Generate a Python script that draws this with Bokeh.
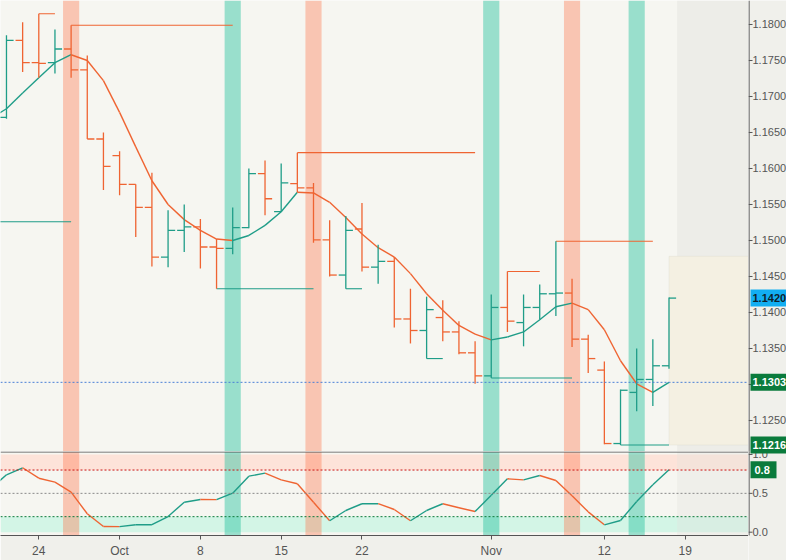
from bokeh.plotting import figure
from bokeh.layouts import column, row
from bokeh.models import (Range1d, FixedTicker, BoxAnnotation, Span, ColumnDataSource)
from bokeh.core.properties import value
from bokeh.embed import file_html
from bokeh.resources import INLINE

# ---------------- data (EURUSD daily, trading-day index, 0 = 24 Sep 2018) ----------------
day_idx = list(range(-3, 40))
opens = [1.1670, 1.1671, 1.1778, 1.1747, 1.1747, 1.1766, 1.1737, 1.1641, 1.1618, 1.1578, 1.1546,
         1.1477, 1.1514, 1.1519, 1.1491, 1.1489, 1.1518, 1.1593, 1.1540, 1.1579, 1.1573,
         1.1501, 1.1452, 1.1516, 1.1463, 1.1471, 1.1391, 1.1375, 1.1393, 1.1373, 1.1344,
         1.1312, 1.1407, 1.1386, 1.1407, 1.1426, 1.1427, 1.1363, 1.1320, 1.1218, 1.1289,
         1.1307, 1.1326]
highs = [1.1700, 1.1785, 1.1803, 1.1815, 1.1793, 1.1799, 1.1757, 1.1650, 1.1624, 1.1578, 1.1594,
         1.1542, 1.1550, 1.1530, 1.1502, 1.1546, 1.1600, 1.1611, 1.1607, 1.1622, 1.1580,
         1.1528, 1.1534, 1.1552, 1.1494, 1.1477, 1.1433, 1.1422, 1.1417, 1.1388, 1.1360,
         1.1425, 1.1457, 1.1425, 1.1439, 1.1499, 1.1447, 1.1369, 1.1332, 1.1293, 1.1350,
         1.1363, 1.1421]
lows = [1.1647, 1.1669, 1.1734, 1.1726, 1.1732, 1.1726, 1.1641, 1.1570, 1.1563, 1.1505, 1.1464,
        1.1463, 1.1484, 1.1461, 1.1433, 1.1481, 1.1517, 1.1535, 1.1540, 1.1567, 1.1497,
        1.1450, 1.1433, 1.1457, 1.1440, 1.1379, 1.1357, 1.1336, 1.1360, 1.1342, 1.1301,
        1.1309, 1.1373, 1.1353, 1.1390, 1.1395, 1.1352, 1.1316, 1.1217, 1.1216, 1.1263,
        1.1270, 1.1322]
closes = [1.1671, 1.1778, 1.1747, 1.1746, 1.1766, 1.1737, 1.1641, 1.1603, 1.1578, 1.1546, 1.1477,
          1.1514, 1.1519, 1.1491, 1.1489, 1.1518, 1.1593, 1.1558, 1.1580, 1.1573, 1.1501,
          1.1452, 1.1514, 1.1463, 1.1471, 1.1391, 1.1375, 1.1404, 1.1373, 1.1344, 1.1312,
          1.1407, 1.1388, 1.1407, 1.1426, 1.1427, 1.1363, 1.1336, 1.1218, 1.1292, 1.1307,
          1.1326, 1.1420]
ma = [1.1669, 1.1683, 1.1705, 1.1726, 1.1747, 1.1758, 1.1750, 1.1722, 1.1678, 1.1630, 1.1583,
      1.1550, 1.1529, 1.1514, 1.1502, 1.1500, 1.1507, 1.1521, 1.1540, 1.1567, 1.1566,
      1.1553, 1.1532, 1.1509, 1.1490, 1.1477, 1.1454, 1.1426, 1.1403, 1.1382, 1.1370,
      1.1362, 1.1366, 1.1373, 1.1390, 1.1408, 1.1413, 1.1404, 1.1376, 1.1333, 1.1301,
      1.1289, 1.1303]
osc = [0.555, 0.739, 0.829, 0.695, 0.644, 0.515, 0.237, 0.073, 0.072, 0.095, 0.096,
       0.202, 0.386, 0.421, 0.419, 0.502, 0.721, 0.760, 0.674, 0.623, 0.385,
       0.147, 0.279, 0.366, 0.367, 0.292, 0.147, 0.279, 0.366, 0.315, 0.266,
       0.476, 0.687, 0.674, 0.730, 0.665, 0.470, 0.262, 0.095, 0.151, 0.395,
       0.610, 0.803]

date_ticks = [0, 5, 10, 15, 20, 28, 35, 40]
date_labels = ["24", "Oct", "8", "15", "22", "Nov", "12", "19"]

sell_signals = [2, 17, 33]
buy_signals = [12, 28, 37]

level_start = [0, 2, -3, 11, 16, 19, 24, 28, 29, 32, 36]
level_end = [1, 12, 2, 17, 27, 20, 25, 33, 31, 38, 39]
level_price = [1.1815, 1.1799, 1.1526, 1.1433, 1.1622, 1.1433, 1.1336, 1.1309, 1.1457, 1.1499, 1.1216]
level_kind = ["res", "res", "sup", "sup", "res", "sup", "sup", "sup", "res", "res", "sup"]

projection_top = 1.1478
projection_bottom = 1.1216
projection_start = 39
future_start = 39.5

price_ticks = [1.125, 1.130, 1.135, 1.140, 1.145, 1.150, 1.155, 1.160, 1.165, 1.170, 1.175, 1.180]
osc_ticks = [0.0, 0.5, 1.0]
osc_upper, osc_mid, osc_lower = 0.8, 0.5, 0.2

# ---------------- styles ----------------
UP = "#1f9d88"
DN = "#ef6432"
BG = "#f6f6f1"
BORDER = "#f0f0eb"
AXIS = "#555555"
FONT = "Liberation Sans"
GREEN_TAG = "#0a7b3c"
BLUE_TAG = "#12aef2"

PRICE_H, OSC_H, DATE_H, MAIN_W, STRIP_W = 451, 84, 25, 748, 38

x_range = Range1d(-2.370, 43.92)
price_range = Range1d(1.120694, 1.183333)
osc_range = Range1d(-0.0425, 1.0386)

common = dict(output_backend="svg", toolbar_location=None,
              min_border_left=0, min_border_top=0, min_border_right=0,
              outline_line_color=None)

# ---------------- price pane ----------------
p = figure(frame_width=MAIN_W, frame_height=PRICE_H, x_range=x_range, y_range=price_range,
           x_axis_location=None, y_axis_location=None, min_border_bottom=0,
           background_fill_color=BG, border_fill_color=BORDER, **common)
p.grid.visible = False

def signal_bands(fig):
    for s in sell_signals:
        fig.add_layout(BoxAnnotation(left=s - 0.5, right=s + 0.5, fill_color="#ff6f42", fill_alpha=0.36,
                                     line_color=None, level="underlay"))
    for b in buy_signals:
        fig.add_layout(BoxAnnotation(left=b - 0.5, right=b + 0.5, fill_color="#23c29e", fill_alpha=0.44,
                                     line_color=None, level="underlay"))

signal_bands(p)
p.add_layout(BoxAnnotation(left=future_start, fill_color="#e2e2dd", fill_alpha=0.4,
                           line_color=None, level="underlay"))
p.add_layout(BoxAnnotation(left=projection_start, bottom=projection_bottom, top=projection_top,
                           fill_color="#f4f0e2", fill_alpha=1.0, line_color="#d6d4ca",
                           line_width=1, level="underlay"))

p.add_layout(Span(location=ma[-1], dimension="width", line_color="#4a7fd6",
                  line_dash="2 2", line_width=1))

lvl_colors = [DN if k == "res" else UP for k in level_kind]
p.segment(x0=level_start, y0=level_price, x1=level_end, y1=level_price,
          line_color=lvl_colors, line_width=1.1)

ma_cols = [UP if ma[i + 1] >= ma[i] else DN for i in range(len(ma) - 1)]
p.segment(x0=day_idx[:-1], y0=ma[:-1], x1=day_idx[1:], y1=ma[1:],
          line_color=ma_cols, line_width=1.4)

bar_cols = [UP if c >= o else DN for o, c in zip(opens, closes)]
src = ColumnDataSource(dict(x=day_idx, xl=[i - 0.44 for i in day_idx], xr=[i + 0.44 for i in day_idx],
                            o=opens, h=highs, l=lows, c=closes, col=bar_cols))
p.segment(x0="x", y0="l", x1="x", y1="h", line_color="col", line_width=1.3, source=src)
p.segment(x0="xl", y0="o", x1="x", y1="o", line_color="col", line_width=1.3, source=src)
p.segment(x0="x", y0="c", x1="xr", y1="c", line_color="col", line_width=1.3, source=src)

# ---------------- oscillator pane ----------------
q = figure(frame_width=MAIN_W, frame_height=OSC_H, x_range=x_range, y_range=osc_range,
           y_axis_location=None, min_border_bottom=DATE_H,
           background_fill_color=BG, border_fill_color=BORDER, **common)
q.grid.visible = False

q.add_layout(BoxAnnotation(bottom=osc_upper, top=1.0, fill_color="#fde3d9", fill_alpha=1.0,
                           line_color=None, level="underlay"))
q.add_layout(BoxAnnotation(bottom=0.0, top=osc_lower, fill_color="#d3f5e6", fill_alpha=1.0,
                           line_color=None, level="underlay"))
signal_bands(q)
q.add_layout(BoxAnnotation(left=future_start, fill_color="#e2e2dd", fill_alpha=0.35,
                           line_color=None, level="underlay"))

q.add_layout(Span(location=1.032, dimension="width", line_color="#505050", line_width=1.2))
q.add_layout(Span(location=osc_upper, dimension="width", line_color="#cc1111", line_dash="2 2", line_width=1))
q.add_layout(Span(location=osc_mid, dimension="width", line_color="#8a8a8a", line_dash="2 2", line_width=1))
q.add_layout(Span(location=osc_lower, dimension="width", line_color="#0b7a3a", line_dash="2 2", line_width=1))

osc_cols = [UP if osc[i + 1] >= osc[i] else DN for i in range(len(osc) - 1)]
q.segment(x0=day_idx[:-1], y0=osc[:-1], x1=day_idx[1:], y1=osc[1:],
          line_color=osc_cols, line_width=1.4)

qx = q.xaxis[0]
qx.ticker = FixedTicker(ticks=date_ticks)
qx.major_label_overrides = {t: lab for t, lab in zip(date_ticks, date_labels)}
qx.axis_line_color = AXIS
qx.axis_line_width = 1.2
qx.major_tick_line_color = AXIS
qx.major_tick_out = 4
qx.major_tick_in = 0
qx.minor_tick_line_color = None
qx.major_label_text_font = FONT
qx.major_label_text_font_size = "12px"
qx.major_label_text_color = AXIS
qx.major_label_standoff = 4

# ---------------- right-hand scale strip (both panes) ----------------
total_h = PRICE_H + OSC_H + DATE_H
pp = (price_range.end - price_range.start) / PRICE_H
strip_price = Range1d(price_range.end - total_h * pp, price_range.end)
op = (osc_range.end - osc_range.start) / OSC_H
strip_osc = Range1d(osc_range.start - DATE_H * op, osc_range.end + PRICE_H * op)

s = figure(frame_width=STRIP_W, frame_height=total_h, x_range=Range1d(0, STRIP_W), y_range=strip_price,
           x_axis_location=None, y_axis_location=None, min_border_bottom=0,
           background_fill_color=BORDER, border_fill_color=BORDER, **common)
s.extra_y_ranges = {"osc": strip_osc}
s.grid.visible = False

def scale(ticks, fmt, lo, hi, rng):
    s.segment(x0=0.5, y0=lo, x1=0.5, y1=hi, line_color=AXIS, line_width=1.2, y_range_name=rng)
    s.segment(x0=0, y0=ticks, x1=4, y1=ticks, line_color=AXIS, line_width=1, y_range_name=rng)
    s.text(x=4, y=ticks, text=[fmt.format(t) for t in ticks], text_baseline="middle",
           text_align="left", text_font=value(FONT), text_font_size="11px", text_color=AXIS,
           y_range_name=rng)

def tags(items, width, rng, tx):
    ty = [t[0] for t in items]
    s.rect(x=2 + width / 2, y=ty, width=width, height=17, height_units="screen",
           fill_color=[t[2] for t in items], line_color=None, y_range_name=rng)
    s.text(x=tx, y=ty, text=[t[1] for t in items], text_baseline="middle", text_align="left",
           text_font=value(FONT), text_font_size="11px", text_font_style="bold",
           text_color=[t[3] for t in items], y_range_name=rng)

scale(price_ticks, "{:.4f}", price_range.start, price_range.end, "default")
scale(osc_ticks, "{:.1f}", osc_range.start, osc_range.end, "osc")
tags([(closes[-1], f"{closes[-1]:.4f}", BLUE_TAG, "#0d1f2b"),
      (ma[-1], f"{ma[-1]:.4f}", GREEN_TAG, "#ffffff"),
      (level_price[-1], f"{level_price[-1]:.4f}", GREEN_TAG, "#ffffff")], 36, "default", 4)
tags([(osc[-1], f"{osc[-1]:.1f}", GREEN_TAG, "#ffffff")], 26, "osc", 6)

layout = row(column(p, q, spacing=0), s, spacing=0)
open("out.html", "w").write(file_html(layout, INLINE, title="EURUSD"))
